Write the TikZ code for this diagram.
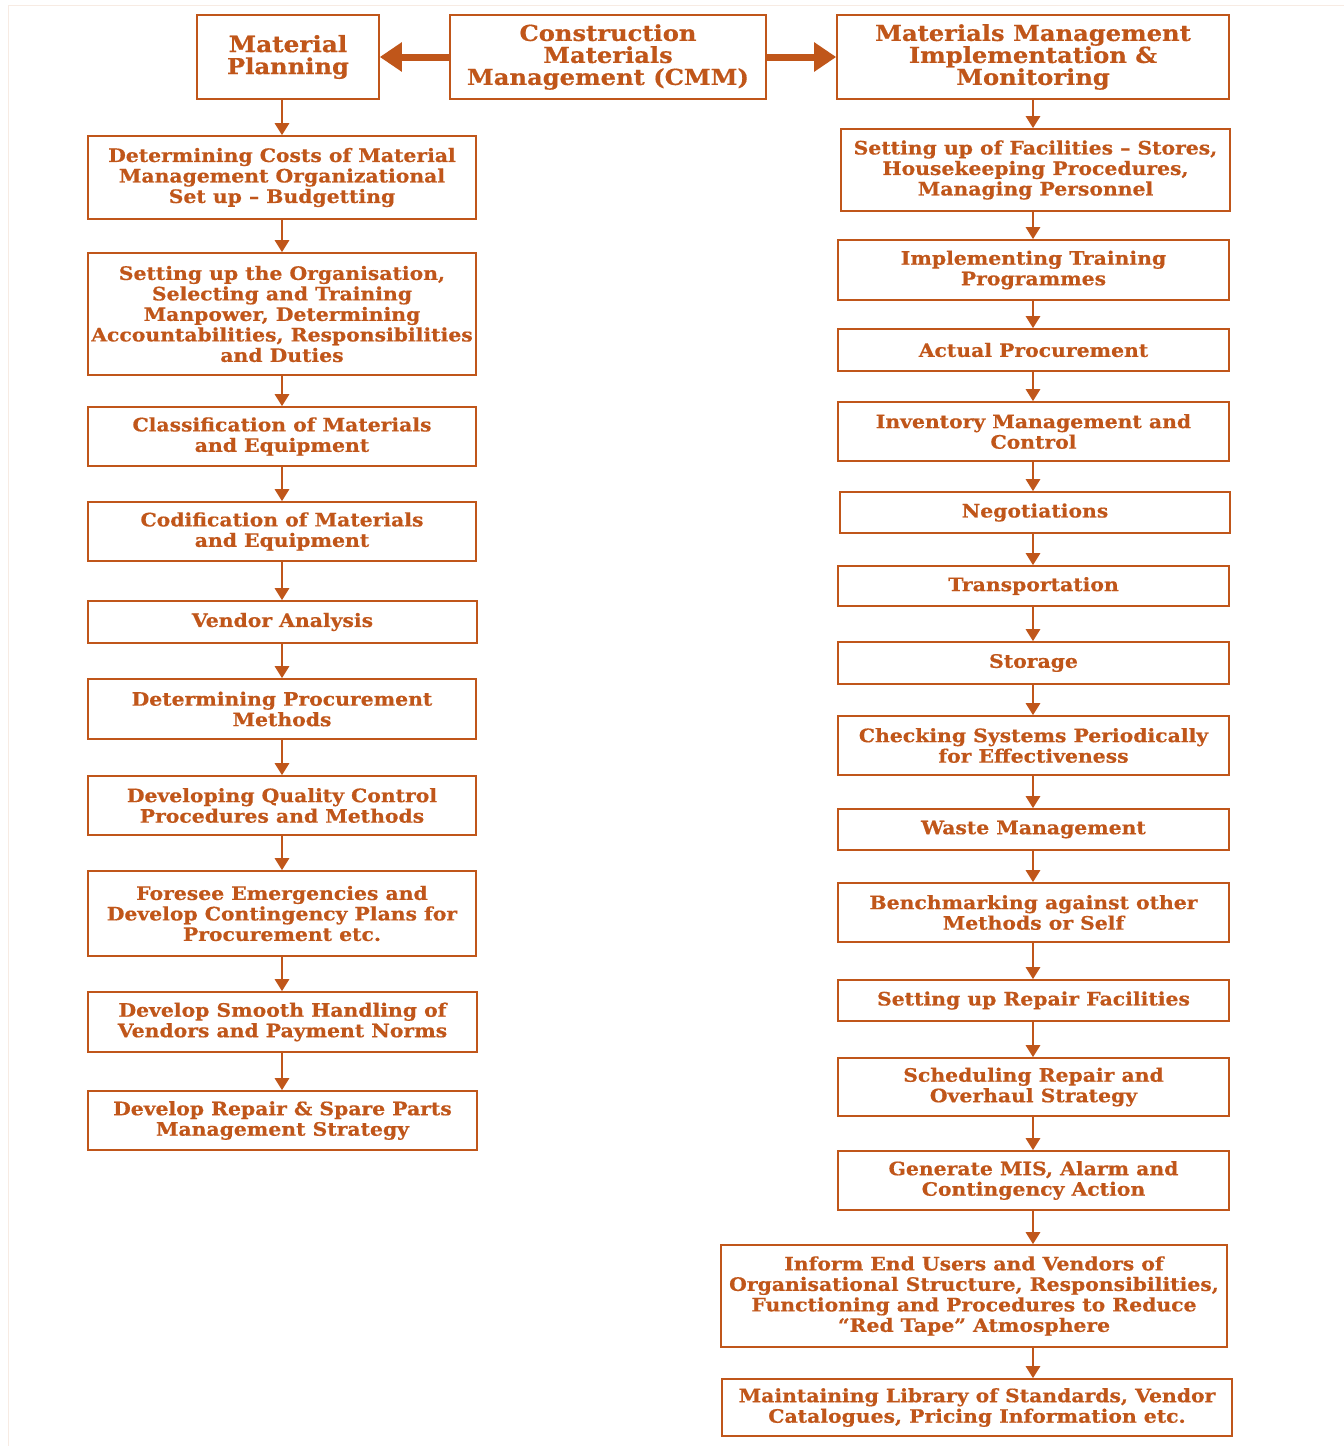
\documentclass[tikz,border=0pt]{standalone}
\usepackage{fontspec}
\setmainfont{DejaVu Serif}[FakeStretch=1.1, BoldFeatures={FakeBold=0.6}]
\usetikzlibrary{arrows.meta}
\definecolor{ob}{HTML}{C0561A}
\tikzset{
  box/.style={draw=ob, line width=1.6pt, text=ob, inner sep=0pt, align=center,
    font=\fontsize{18.5}{20.5}\selectfont\bfseries},
  head/.style={box, font=\fontsize{22}{22}\selectfont\bfseries},
  arr/.style={draw=ob, line width=2.8pt, -{Triangle[width=14pt,length=12pt]}},
  bigarr/.style={draw=ob, line width=7pt, -{Triangle[width=28pt,length=22pt]}}
}
\newcommand\bx[7][box]{\node[#1, minimum width={(#5-#3)*1pt}, minimum height={(#6-#4)*1pt}] (#2) at ({(#3+#5)/2},{(#4+#6)/2}) {#7};}
\begin{document}
\begin{tikzpicture}[x=1pt,y=-1pt]
\useasboundingbox (0,0) rectangle (1344,1446);
\draw[ob!12, line width=1pt] (8,1446) -- (8,5) -- (1344,5);
% top row
\bx[head]{mp}{197}{15}{379}{99}{\fontsize{22.5}{23}\selectfont Material\\Planning}
\bx[head]{cmm}{450}{15}{766}{99}{Construction\\Materials\\Management (CMM)}
\bx[head]{mim}{837}{15}{1229}{99}{Materials Management\\Implementation \&\\Monitoring}
\draw[bigarr] (cmm.west) -- (mp.east);
\draw[bigarr] (cmm.east) -- (mim.west);
% left column
\bx{l1}{88}{136}{476}{219}{Determining Costs of Material\\Management Organizational\\Set up -- Budgetting}
\bx{l2}{88}{253}{476}{375}{Setting up the Organisation,\\Selecting and Training\\Manpower, Determining\\Accountabilities, Responsibilities\\and Duties}
\bx{l3}{88}{407}{476}{466}{Classification of Materials\\and Equipment}
\bx{l4}{88}{502}{476}{561}{Codification of Materials\\and Equipment}
\bx{l5}{88}{601}{477}{643}{Vendor Analysis}
\bx{l6}{88}{679}{476}{739}{Determining Procurement\\Methods}
\bx{l7}{88}{776}{476}{835}{Developing Quality Control\\Procedures and Methods}
\bx{l8}{88}{871}{476}{956}{Foresee Emergencies and\\Develop Contingency Plans for\\Procurement etc.}
\bx{l9}{88}{992}{477}{1052}{Develop Smooth Handling of\\Vendors and Payment Norms}
\bx{l10}{88}{1091}{477}{1150}{Develop Repair \& Spare Parts\\Management Strategy}
\coordinate (lx) at (282,0);
\draw[arr] (mp.south -| lx) -- (l1.north -| lx);
\foreach \a/\b in {l1/l2,l2/l3,l3/l4,l4/l5,l5/l6,l6/l7,l7/l8,l8/l9,l9/l10}
  \draw[arr] (\a.south -| lx) -- (\b.north -| lx);
% right column
\bx{r1}{841}{129}{1230}{211}{Setting up of Facilities -- Stores,\\Housekeeping Procedures,\\Managing Personnel}
\bx{r2}{838}{240}{1229}{300}{Implementing Training\\Programmes}
\bx{r3}{838}{329}{1229}{371}{Actual Procurement}
\bx{r4}{838}{402}{1229}{461}{Inventory Management and\\Control}
\bx{r5}{840}{492}{1230}{533}{Negotiations}
\bx{r6}{838}{566}{1229}{606}{Transportation}
\bx{r7}{838}{642}{1229}{684}{Storage}
\bx{r8}{838}{716}{1229}{775}{Checking Systems Periodically\\for Effectiveness}
\bx{r9}{838}{809}{1229}{850}{Waste Management}
\bx{r10}{838}{883}{1229}{942}{Benchmarking against other\\Methods or Self}
\bx{r11}{838}{980}{1229}{1021}{Setting up Repair Facilities}
\bx{r12}{838}{1058}{1229}{1116}{Scheduling Repair and\\Overhaul Strategy}
\bx{r13}{838}{1151}{1229}{1210}{Generate MIS, Alarm and\\Contingency Action}
\bx{r14}{721}{1245}{1227}{1347}{Inform End Users and Vendors of\\Organisational Structure, Responsibilities,\\Functioning and Procedures to Reduce\\``Red Tape'' Atmosphere}
\bx{r15}{722}{1379}{1232}{1436}{Maintaining Library of Standards, Vendor\\Catalogues, Pricing Information etc.}
\coordinate (rx) at (1033,0);
\draw[arr] (mim.south -| rx) -- (r1.north -| rx);
\foreach \a/\b in {r1/r2,r2/r3,r3/r4,r4/r5,r5/r6,r6/r7,r7/r8,r8/r9,r9/r10,r10/r11,r11/r12,r12/r13,r13/r14,r14/r15}
  \draw[arr] (\a.south -| rx) -- (\b.north -| rx);
\end{tikzpicture}
\end{document}
